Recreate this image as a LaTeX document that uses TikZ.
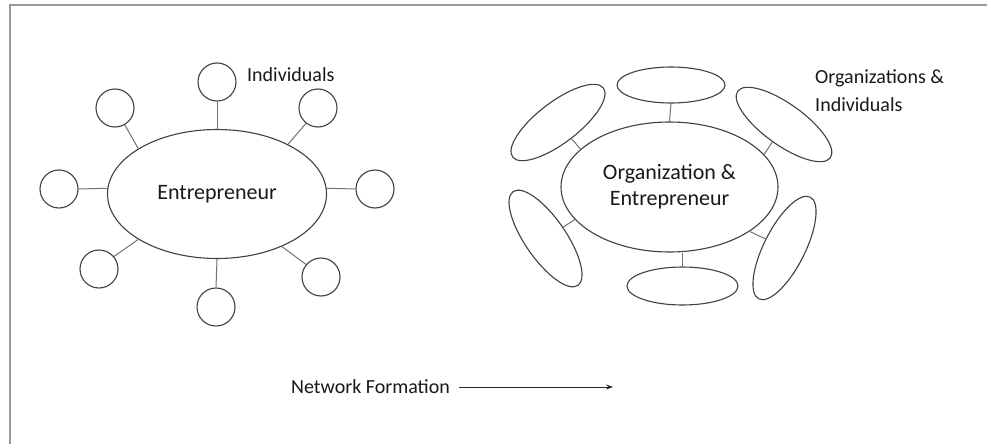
\documentclass[tikz,border=0pt]{standalone}
\usepackage{fontspec}
\setmainfont{Carlito}
\usetikzlibrary{shapes.geometric,arrows.meta}
\begin{document}
\begin{tikzpicture}[x=1pt,y=-1pt,
  outl/.style={draw=black!75, line width=1.1pt},
  big/.style={outl, ellipse, inner sep=0pt, font=\fontsize{22}{26}\selectfont, text=black!90, align=center},
  ind/.style={outl, circle, minimum size=38pt, inner sep=0pt},
  org/.style={outl, ellipse, minimum width=114pt, minimum height=41pt, inner sep=0pt},
  stub/.style={draw=black!55, line width=1pt},
  lbl/.style={font=\fontsize{20}{28}\selectfont, text=black!90, inner sep=0pt, anchor=west, align=left}
]
\useasboundingbox (0,0) rectangle (987,444);
\fill[white] (0,0) rectangle (987,444);
\draw[black!40, line width=2pt] (10,444) -- (10,5) -- (987,5);

% left cluster
\node[big, minimum width=219pt, minimum height=129pt] (e) at (217,194) {Entrepreneur};
\node[ind] (ct)  at (217,82)  {};
\node[ind] (ctl) at (115,108) {};
\node[ind] (ctr) at (318,108) {};
\node[ind] (cl)  at (59,189)  {};
\node[ind] (cr)  at (375,189) {};
\node[ind] (cbl) at (99,269)  {};
\node[ind] (cb)  at (216,307) {};
\node[ind] (cbr) at (321,277) {};
\draw[stub] (ct.south) -- (e.north);
\draw[stub] (ctl.-60) -- (e.150);
\draw[stub] (ctr.-128) -- (e.35);
\draw[stub] (cl.east) -- (e.177);
\draw[stub] (cr.west) -- (e.3);
\draw[stub] (cbl.40) -- (e.210);
\draw[stub] (cb.north) -- (e.south);
\draw[stub] (cbr.140) -- (e.-39);
\node[lbl] (li) at (247,75) {Individuals};

% right cluster
\node[big, minimum width=217pt, minimum height=130pt] (o) at (669.5,187) {Organization \&\\Entrepreneur};
\node[org, minimum width=108pt, minimum height=36pt] (ot) at (671,85) {};
\node[org, minimum width=111pt, minimum height=38pt] (ob) at (682.5,286) {};
\node[org, rotate=37.3] (otl) at (558,122.5) {};
\node[org, rotate=-35.7] (otr) at (784,124.5) {};
\node[org, rotate=-55.4] (obl) at (545.5,238.5) {};
\node[org, rotate=63.2] (obr) at (784.5,248) {};
\draw[stub] (ot.south) -- (o.north);
\draw[stub] (ob.north) -- (ob.north |- o.south);
\draw[stub] (o.157) -- (otl);
\draw[stub] (o.19) -- (otr);
\draw[stub] (o.199) -- (obl);
\draw[stub] (o.-29) -- (obr);
\node[lbl] (lo) at (815,91) {Organizations \&\\Individuals};

% bottom
\node[lbl] (nf) at (291,387) {Network Formation};
\coordinate (ae) at (613,387);
\draw[black!85, line width=1pt, -{Stealth[length=7pt,width=5pt]}] ([xshift=9pt]nf.east) -- (ae);
\end{tikzpicture}
\end{document}
